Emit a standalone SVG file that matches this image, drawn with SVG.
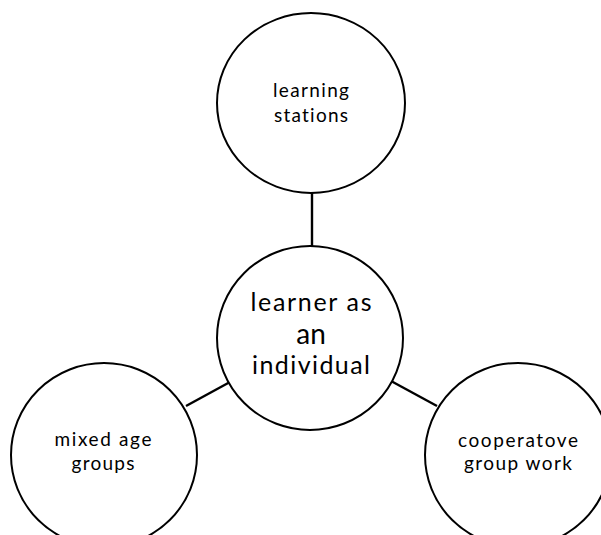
<svg xmlns="http://www.w3.org/2000/svg" width="601" height="535" viewBox="0 0 601 535">
  <style>
    .node { fill: #ffffff; stroke: #000000; stroke-width: 2; }
    .link { stroke: #000000; stroke-width: 2.4; fill: none; }
    .label { font-family: Lato, "Open Sans", sans-serif; fill: #000000; text-anchor: middle; font-variant-ligatures: none; }
    .small { font-size: 19px; }
    .big { font-size: 25px; }
    .bigger { font-size: 28px; }
  </style>
  <rect width="601" height="535" fill="#ffffff"/>
  <g id="connectors">
    <line class="link" x1="312" y1="193" x2="312" y2="247"/>
    <line class="link" x1="186" y1="406" x2="230" y2="382"/>
    <line class="link" x1="391" y1="381" x2="437" y2="406"/>
  </g>
  <g id="node-learning-stations">
    <ellipse class="node" cx="311" cy="103" rx="94" ry="90"/>
    <text class="label small" x="311" y="97" textLength="76" lengthAdjust="spacing">learning</text>
    <text class="label small" x="311" y="122" textLength="74" lengthAdjust="spacing">stations</text>
  </g>
  <g id="node-learner">
    <ellipse class="node" cx="310" cy="338" rx="93" ry="92"/>
    <text class="label big" x="311" y="311" textLength="121" lengthAdjust="spacing">learner as</text>
    <text class="label bigger" x="311" y="344">an</text>
    <text class="label big" x="311" y="374" textLength="118" lengthAdjust="spacing">individual</text>
  </g>
  <g id="node-mixed-age">
    <ellipse class="node" cx="104" cy="455" rx="93" ry="92"/>
    <text class="label small" x="103" y="446" textLength="97" lengthAdjust="spacing">mixed age</text>
    <text class="label small" x="103" y="470" textLength="63" lengthAdjust="spacing">groups</text>
  </g>
  <g id="node-cooperative">
    <ellipse class="node" cx="518" cy="455" rx="93" ry="92"/>
    <text class="label small" x="518" y="447" textLength="120" lengthAdjust="spacing">cooperatove</text>
    <text class="label small" x="518" y="470" textLength="108" lengthAdjust="spacing">group work</text>
  </g>
</svg>
